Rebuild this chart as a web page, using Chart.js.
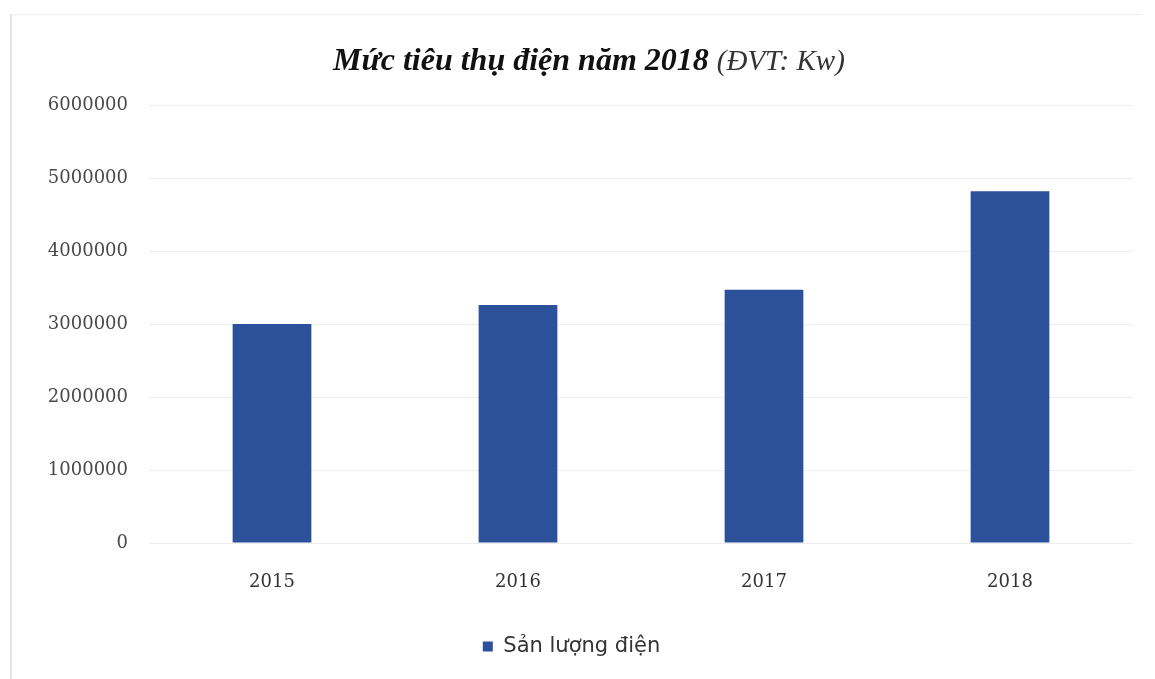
<!DOCTYPE html>
<html>
<head>
<meta charset="utf-8">
<script src="https://cdn.jsdelivr.net/npm/chart.js@4"></script>
<style>
  body { margin: 0; background: #fff; }
  #wrap { position: relative; width: 1155px; height: 679px; }
  #frame { position: absolute; left: 10px; top: 14px; width: 1130px; height: 680px;
           border-left: 2px solid #e4e6e6; border-top: 1px solid #eeeeee; }
  #title { position: absolute; left: 0; width: 1178px; top: 41px; text-align: center;
           font-family: "Liberation Serif", serif; font-style: italic; font-size: 32px; color: #111; }
  #title b { font-weight: bold; }
  #title span { font-weight: normal; font-size: 29px; color: #333; }
  canvas { position: absolute; left: 0; top: 0; }
</style>
</head>
<body>
<div id="wrap">
  <div id="frame"></div>
  <canvas id="canvas" width="1155" height="679"></canvas>
  <div id="title"><b>Mức tiêu thụ điện năm 2018</b> <span>(ĐVT: Kw)</span></div>
</div>
<script>
//****DATA****//

var years = ['2015', '2016', '2017', '2018'];
var sanLuong = [3000000, 3260000, 3470000, 4820000];
var seriesName = 'Sản lượng điện';
var yTicks = [0, 1000000, 2000000, 3000000, 4000000, 5000000, 6000000];

//****CHART****//

var ctx = document.getElementById('canvas').getContext('2d');

var chart = new Chart(ctx, {
  type: 'bar',
  data: {
    labels: years,
    datasets: [
      {
        label: seriesName,
        data: sanLuong,
        backgroundColor: '#2c519b',
        borderWidth: 0,
        categoryPercentage: 1,
        barPercentage: 0.32
      }
    ]
  },
  options: {
    responsive: false,
    animation: false,
    layout: { padding: { left: 10, right: 22, top: 105, bottom: 12 } },
    scales: {
      x: {
        grid: { display: false, drawTicks: false },
        border: { display: false },
        ticks: { padding: 29, color: '#333', font: { family: 'DejaVu Serif', size: 18 } },
        afterFit: function (scale) { scale.height = 83; }
      },
      y: {
        min: yTicks[0],
        max: yTicks[yTicks.length - 1],
        afterBuildTicks: function (scale) {
          scale.ticks = yTicks.map(function (v) { return { value: v }; });
        },
        grid: { color: '#ededed', drawTicks: false },
        border: { display: false },
        ticks: {
          padding: 21, color: '#4a4a4a', font: { family: 'DejaVu Serif', size: 18 },
          callback: function (value) { return String(value); }
        },
        afterFit: function (scale) { scale.width = 139; }
      }
    },
    plugins: {
      legend: {
        position: 'bottom',
        labels: {
          usePointStyle: true,
          pointStyle: 'rect',
          boxWidth: 10,
          boxHeight: 10,
          padding: 10,
          color: '#333',
          font: { family: 'DejaVu Sans', size: 21 }
        }
      },
      tooltip: { enabled: false }
    }
  }
});
</script>
</body>
</html>
